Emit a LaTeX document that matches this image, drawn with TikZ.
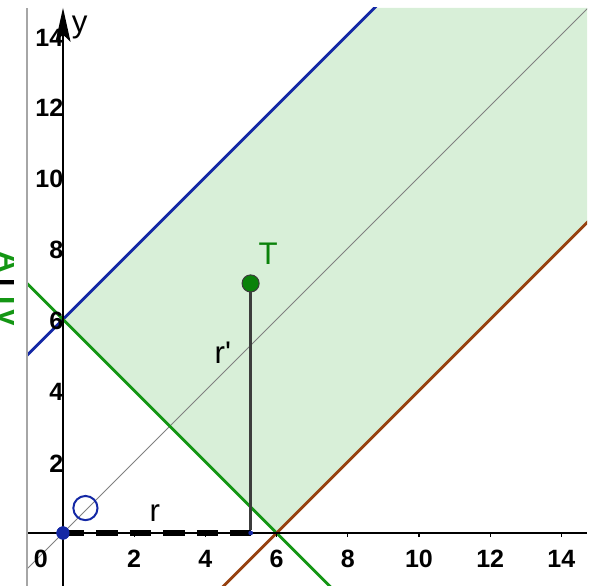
\documentclass[tikz,border=0pt]{standalone}
\usepackage{fontspec}
\setmainfont{Liberation Sans}
\usetikzlibrary{arrows.meta}
\definecolor{gblue}{RGB}{20,40,165}
\definecolor{ggreen}{RGB}{20,150,20}
\definecolor{gbrown}{RGB}{150,65,15}
\definecolor{gfill}{RGB}{216,239,216}
\definecolor{gpt}{RGB}{10,130,10}
\definecolor{gseg}{RGB}{60,60,60}
\tikzset{
  axisline/.style={black, line width=1.5pt},
  ticklbl/.style={font=\fontsize{20}{20}\selectfont\bfseries, inner sep=1pt},
  biglbl/.style={font=\fontsize{25}{25}\selectfont, inner sep=0pt},
  graphline/.style={line width=2.2pt},
  ptblue/.style={circle, fill=gblue, inner sep=0pt},
}
\begin{document}
\begin{tikzpicture}
\useasboundingbox (-1.770,-1.489) rectangle (15.169,14.972);
% left clipped label fragment
\begin{scope}
  \clip (-1.77,5.1) rectangle (-1.40,8.4);
  \node[rotate=-90, text=ggreen, font=\fontsize{24}{24}\selectfont\bfseries, inner sep=0pt] (frag) at (-1.50,6.85) {A\textcolor{black}{T}Tv};
\end{scope}
\begin{scope}
  \clip (-1.011,-1.489) rectangle (14.72,14.75);
  \fill[gfill] (0,6) -- (6,0) -- (14.72,8.72) -- (14.72,14.75) -- (8.75,14.75) -- cycle;
  \draw[gray, line width=0.6pt] (-1.6,-1.6) -- (15,15);
  \draw[gblue, graphline] (-2,4) -- (9,15);
  \draw[ggreen, graphline] (-2,8) -- (8,-2);
  \draw[gbrown, graphline] (4,-2) -- (16,10);
  % axes
  \coordinate (xl) at (-1.011,0);
  \coordinate (xr) at (14.72,0);
  \coordinate (yb) at (0,-1.489);
  \coordinate (yt) at (0,14.75);
  \draw[axisline] (xl) -- (xr);
  \draw[axisline, -{Stealth[length=0.95cm, width=0.42cm, inset=0.2cm]}] (yb) -- (yt);
  \foreach \k in {2,4,...,14} {
    \draw[black, line width=1pt] (\k,0) -- (\k,-0.1);
    \node[ticklbl] at (\k,-0.72) {\k};
  }
  \foreach \k in {2,4,6,8,10,12} {
    \node[ticklbl, anchor=east] at (0.05,\k-0.05) {\k};
  }
  \node[ticklbl, anchor=east] at (0.05,13.9) {14};
  \node[ticklbl] at (-0.62,-0.72) {0};
  % objects
  \node[circle, fill=gpt, draw=gseg, line width=0.8pt, minimum size=0.48cm, inner sep=0pt] (T) at (5.27,7.01) {};
  \node[ptblue, minimum size=0.13cm] (F) at (5.27,0) {};
  \node[ptblue, minimum size=0.37cm] (O) at (0,0) {};
  \draw[gseg, line width=1.8pt] (T) -- (F);
  \draw[black, line width=5.2pt, dash pattern=on 0.6cm off 0.34cm] (O.center) -- (F.center);
  \node[ptblue, minimum size=0.37cm] at (O) {};
  \node[ptblue, minimum size=0.13cm] at (F) {};
  \node[circle, draw=gblue, line width=1.6pt, minimum size=0.68cm, inner sep=0pt] (C) at (0.63,0.70) {};
  \node[biglbl] (rl) at (2.58,0.55) {r};
  \node[biglbl] (rpl) at (4.49,5.06) {r\textquotesingle};
  \node[biglbl, text=gpt] (Tl) at (5.76,7.85) {T};
  \node[biglbl] (yl) at (0.47,14.2) {y};
\end{scope}
\draw[gray!70, line width=1.2pt] (-1.011,-1.489) -- (-1.011,14.75);
\end{tikzpicture}
\end{document}
